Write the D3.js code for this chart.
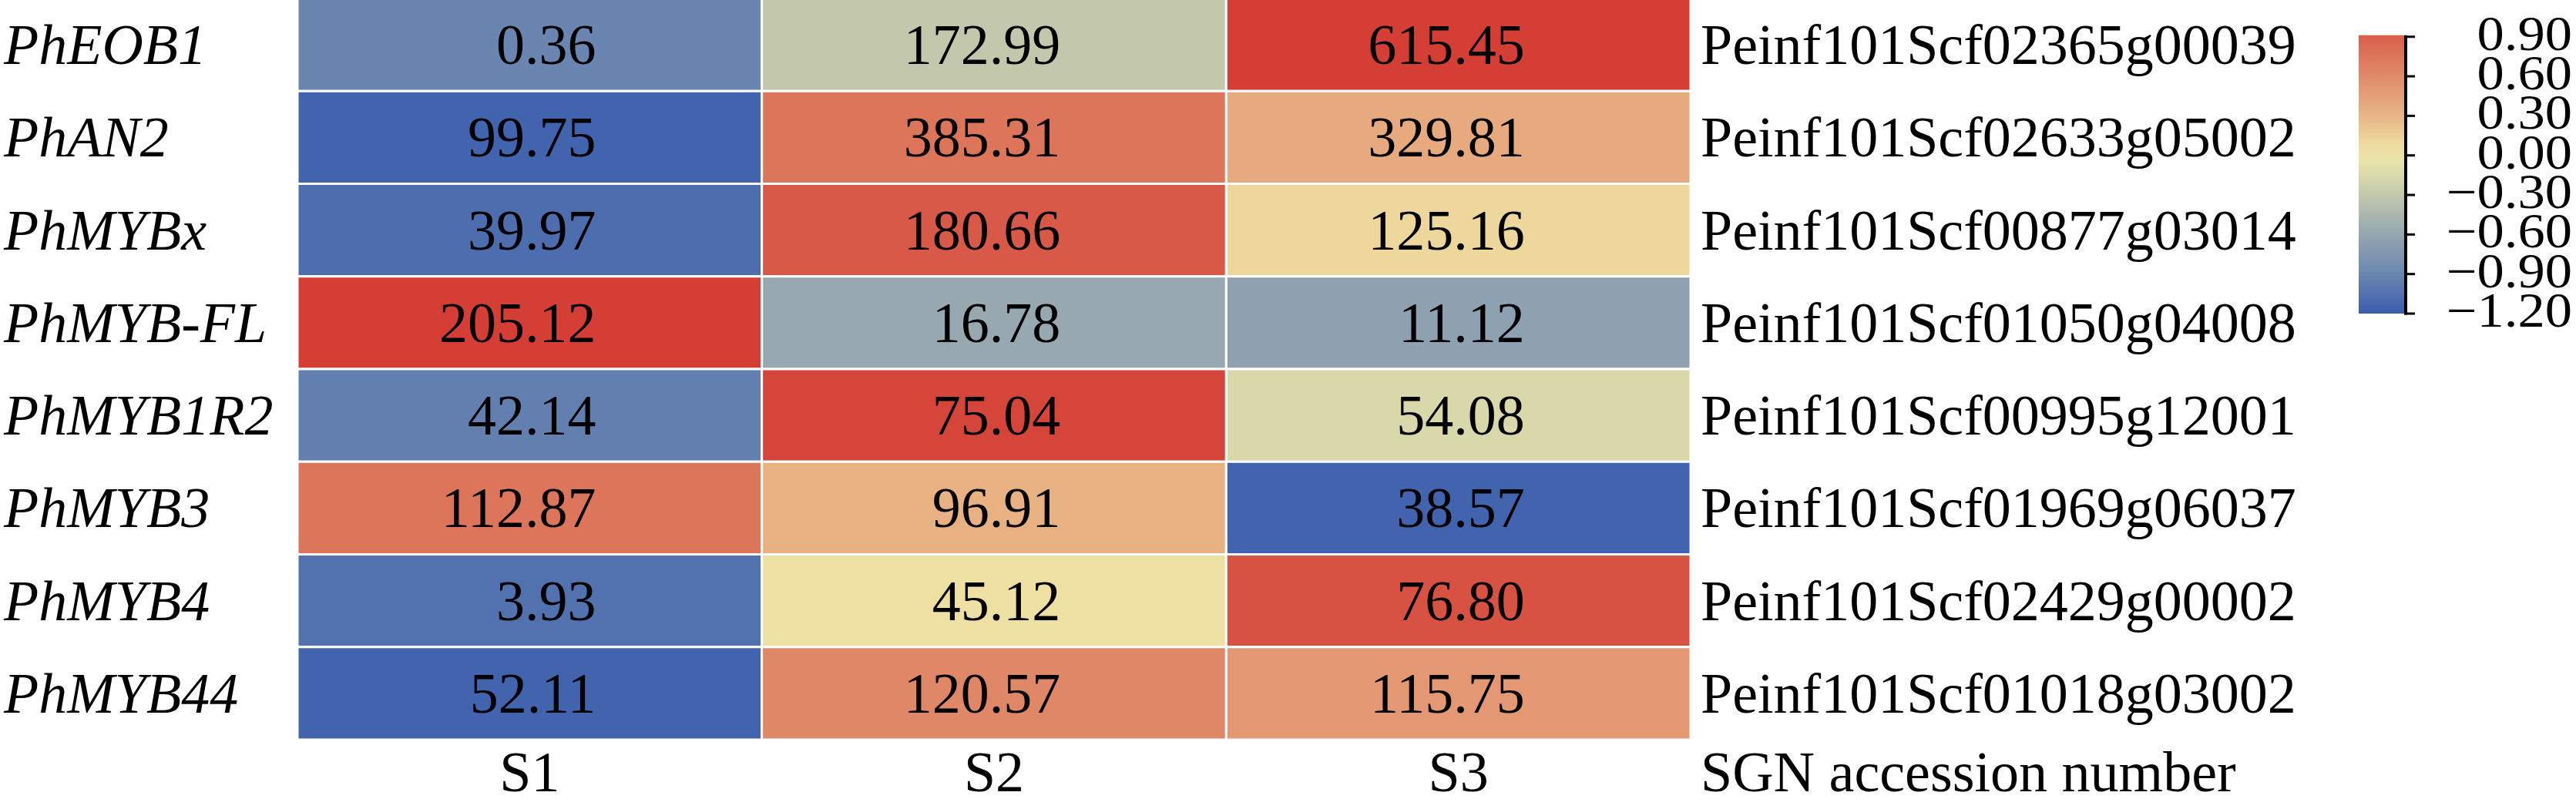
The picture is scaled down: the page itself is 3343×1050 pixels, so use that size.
<!DOCTYPE html>
<html>
<head>
<meta charset="utf-8">
<script src="https://cdn.jsdelivr.net/npm/d3@7"></script>
<style>
  html, body { margin: 0; padding: 0; background: #fff; }
  svg { display: block; }
  text { font-family: "Liberation Serif", "Times New Roman", serif; fill: #000; }
</style>
</head>
<body>
<svg id="chart" width="3343" height="1050"></svg>
<script>
// ---- data ----
const genes = ["PhEOB1", "PhAN2", "PhMYBx", "PhMYB-FL", "PhMYB1R2", "PhMYB3", "PhMYB4", "PhMYB44"];
const samples = ["S1", "S2", "S3"];
const accessions = [
  "Peinf101Scf02365g00039", "Peinf101Scf02633g05002", "Peinf101Scf00877g03014",
  "Peinf101Scf01050g04008", "Peinf101Scf00995g12001", "Peinf101Scf01969g06037",
  "Peinf101Scf02429g00002", "Peinf101Scf01018g03002"
];
const accessionHeader = "SGN accession number";
// displayed expression values (rows = genes, cols = S1..S3)
const S1 = [0.36, 99.75, 39.97, 205.12, 42.14, 112.87, 3.93, 52.11];
const S2 = [172.99, 385.31, 180.66, 16.78, 75.04, 96.91, 45.12, 120.57];
const S3 = [615.45, 329.81, 125.16, 11.12, 54.08, 38.57, 76.80, 115.75];
// row z-scores used for colour
const Z1 = [-0.90, -1.15, -1.08, 1.15, -0.95, 0.75, -1.05, -1.15];
const Z2 = [-0.30, 0.75, 0.95, -0.58, 1.10, 0.33, 0.05, 0.62];
const Z3 = [1.15, 0.38, 0.10, -0.65, -0.15, -1.15, 1.00, 0.50];
const legendTicks = [0.90, 0.60, 0.30, 0.00, -0.30, -0.60, -0.90, -1.20];
const legendDomain = [-1.2, 0.9];
// colour map stops
const stopValues = [-1.2, -0.9, -0.6, -0.3, 0.0, 0.3, 0.6, 0.9, 1.2];
const stopColors = ["#3a5cae", "#6a86b0", "#95a6b0", "#c3c8ad", "#efe8a8", "#e8b585", "#e08a6a", "#d9604c", "#d4372f"];

// ---- build ----
const svg = d3.select("#chart");
const valueCols = [S1, S2, S3];
const zCols = [Z1, Z2, Z3];
const cells = [];
genes.forEach((g, i) => samples.forEach((s, j) => {
  cells.push({ gene: g, sample: s, value: valueCols[j][i], z: zCols[j][i] });
}));

const color = d3.scaleLinear().domain(stopValues).range(stopColors).interpolate(d3.interpolateRgb).clamp(true);

const x = d3.scaleBand().domain(samples).range([386, 2194]).padding(0);
const y = d3.scaleBand().domain(genes).range([-2, 960]).padding(0);

const FS = 74;

// cells
svg.append("g").selectAll("rect").data(cells).join("rect")
  .attr("x", d => x(d.sample))
  .attr("y", d => y(d.gene))
  .attr("width", x.bandwidth())
  .attr("height", y.bandwidth())
  .attr("fill", d => color(d.z))
  .attr("stroke", "#fff")
  .attr("stroke-width", 3);

// cell values
svg.append("g").selectAll("text").data(cells).join("text")
  .attr("x", d => x(d.sample) + x.bandwidth() * 0.643)
  .attr("y", d => y(d.gene) + y.bandwidth() / 2 + 25)
  .attr("text-anchor", "end")
  .attr("font-size", FS)
  .text(d => d.value.toFixed(2));

// gene labels (left, italic)
svg.append("g").selectAll("text").data(genes).join("text")
  .attr("x", 5)
  .attr("y", d => y(d) + y.bandwidth() / 2 + 25)
  .attr("font-size", FS)
  .attr("font-style", "italic")
  .text(d => d);

// accession labels (right)
svg.append("g").selectAll("text").data(genes).join("text")
  .attr("x", 2207)
  .attr("y", (d, i) => y(d) + y.bandwidth() / 2 + 25)
  .attr("font-size", FS)
  .text((d, i) => accessions[i]);

// bottom labels
svg.append("g").selectAll("text").data(samples).join("text")
  .attr("x", d => x(d) + x.bandwidth() / 2)
  .attr("y", 1027)
  .attr("text-anchor", "middle")
  .attr("font-size", FS)
  .text(d => d);
svg.append("text")
  .attr("x", 2207).attr("y", 1027)
  .attr("font-size", FS)
  .text(accessionHeader);

// ---- colour bar ----
const ly = d3.scaleLinear().domain(legendDomain).range([407, 47.7]);
const barX = 3061, barW = 59;
const defs = svg.append("defs");
const grad = defs.append("linearGradient").attr("id", "cbar")
  .attr("x1", 0).attr("y1", 1).attr("x2", 0).attr("y2", 0);
const gStops = d3.range(0, 1.0001, 0.05);
grad.selectAll("stop").data(gStops).join("stop")
  .attr("offset", t => t)
  .attr("stop-color", t => color(legendDomain[0] + t * (ly.invert(45.7) - legendDomain[0])));
svg.append("rect")
  .attr("x", barX).attr("y", 45.7)
  .attr("width", barW).attr("height", 407 - 45.7)
  .attr("fill", "url(#cbar)");

const axisG = svg.append("g");
axisG.append("line")
  .attr("x1", barX + barW + 2).attr("x2", barX + barW + 2)
  .attr("y1", ly(legendDomain[0]) + 1.5).attr("y2", 45.7)
  .attr("stroke", "#000").attr("stroke-width", 4);
axisG.selectAll("line.tick").data(legendTicks).join("line")
  .attr("class", "tick")
  .attr("x1", barX + barW).attr("x2", barX + barW + 14)
  .attr("y1", d => ly(d)).attr("y2", d => ly(d))
  .attr("stroke", "#000").attr("stroke-width", 3);
axisG.selectAll("text").data(legendTicks).join("text")
  .attr("transform", d => `translate(3338,${ly(d) + 17}) scale(1.12,1)`)
  .attr("text-anchor", "end")
  .attr("font-size", 63)
  .text(d => (d < 0 ? "\u2212" : "") + Math.abs(d).toFixed(2));
</script>
</body>
</html>
